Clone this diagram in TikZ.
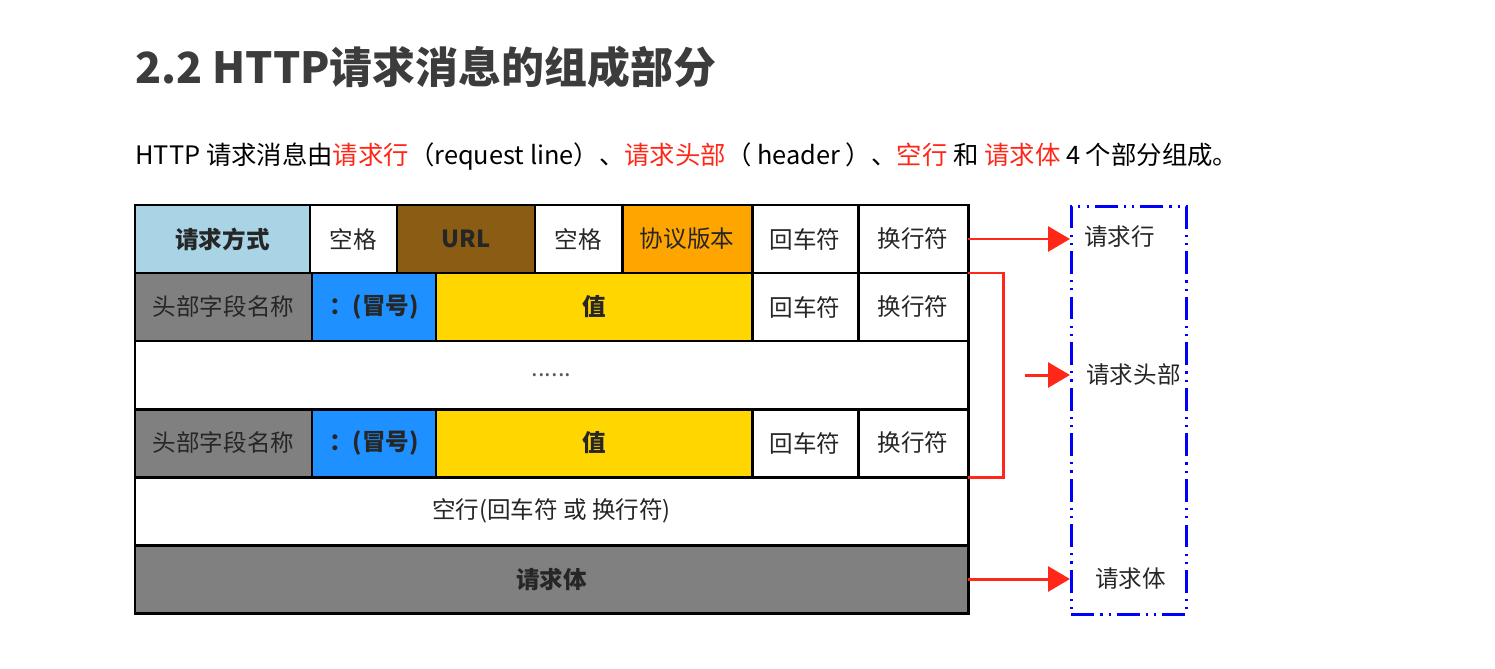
\documentclass[tikz,border=0pt]{standalone}
\usepackage{fontspec}
\setmainfont{Noto Sans CJK SC}
\usetikzlibrary{positioning,arrows.meta,calc}

\definecolor{methodblue}{RGB}{168,212,230}
\definecolor{urlbrown}{RGB}{139,92,20}
\definecolor{versorange}{RGB}{255,165,0}
\definecolor{fieldgray}{RGB}{128,128,128}
\definecolor{colonblue}{RGB}{30,144,255}
\definecolor{valuegold}{RGB}{255,214,0}
\definecolor{markred}{RGB}{255,40,24}
\definecolor{titlegray}{RGB}{60,60,60}

\newcommand{\cellfont}{\fontsize{13.4pt}{16pt}\selectfont}
\newcommand{\hl}[1]{\textcolor{markred}{#1}}

\tikzset{
  % Table cell: black frame, label centred
  cell/.style={draw=black, rectangle, line width=1.7pt, inner sep=0pt, outer sep=0pt,
               minimum height=1.36cm, font=\cellfont, text=black!85, align=center},
  cell-bold/.style={cell, font=\cellfont\bfseries},
  fullrow/.style={cell, minimum width=16.66cm},
  % Red arrows and bracket on the right
  partarr/.style={-{Triangle[length=4.4mm,width=5mm]}, draw=markred, fill=markred, line width=1.7pt},
  bracket/.style={draw=markred, line width=1.7pt},
  % Dash-dot enclosure for the part names
  partsbox/.style={draw=blue, line width=1.6pt, inner sep=0pt,
                   dash pattern=on 13pt off 3.5pt on 1.2pt off 3.5pt on 1.2pt off 3.5pt,
                   minimum width=2.30cm, minimum height=8.16cm},
  partlabel/.style={font=\cellfont, text=black!85, anchor=west, inner sep=0pt}
}

\begin{document}
\begin{tikzpicture}
\useasboundingbox (0,0) rectangle (29.90,-13.36);

% ============== Heading and intro sentence ==============
\node[anchor=west, font=\fontsize{24.4pt}{29pt}\selectfont\bfseries, text=titlegray, inner sep=0pt] (title)
  at (2.70,-1.34) {2.2 HTTP请求消息的组成部分};
\node[anchor=west, font=\fontsize{14.45pt}{17pt}\selectfont, inner sep=0pt] (intro) at (2.70,-3.14)
  {HTTP 请求消息由\hl{请求行}（request line）、\hl{请求头部}（ header ）、\hl{空行} 和 \hl{请求体} 4 个部分组成。};

% ============== Row 1: request line ==============
\node[cell-bold, fill=methodblue, minimum width=3.50cm, anchor=north west] (m) at (2.70,-4.10) {请求方式};
\node[cell, fill=white, right=0pt of m, minimum width=1.74cm] (sp1) {空格};
\node[cell-bold, fill=urlbrown, right=0pt of sp1, minimum width=2.76cm] (url) {URL};
\node[cell, fill=white, right=0pt of url, minimum width=1.74cm] (sp2) {空格};
\node[cell, fill=versorange, right=0pt of sp2, minimum width=2.60cm] (ver) {协议版本};
\node[cell, fill=white, right=0pt of ver, minimum width=2.12cm] (cr1) {回车符};
\node[cell, fill=white, right=0pt of cr1, minimum width=2.20cm] (lf1) {换行符};

% ============== Row 2: first header field ==============
\node[cell, fill=fieldgray, minimum width=3.54cm, anchor=north west] (hA-name) at (m.south west) {头部字段名称};
\node[cell-bold, fill=colonblue, right=0pt of hA-name, minimum width=2.48cm] (hA-colon) {：(冒号)};
\node[cell-bold, fill=valuegold, right=0pt of hA-colon, minimum width=6.32cm] (hA-val) {值};
\node[cell, fill=white, right=0pt of hA-val, minimum width=2.12cm] (hA-cr) {回车符};
\node[cell, fill=white, right=0pt of hA-cr, minimum width=2.20cm] (hA-lf) {换行符};

% ============== Row 3: more header fields ==============
\node[fullrow, fill=white, anchor=north west, text=black!65] (dots) at (hA-name.south west) {......};

% ============== Row 4: last header field ==============
\node[cell, fill=fieldgray, minimum width=3.54cm, anchor=north west] (hB-name) at (dots.south west) {头部字段名称};
\node[cell-bold, fill=colonblue, right=0pt of hB-name, minimum width=2.48cm] (hB-colon) {：(冒号)};
\node[cell-bold, fill=valuegold, right=0pt of hB-colon, minimum width=6.32cm] (hB-val) {值};
\node[cell, fill=white, right=0pt of hB-val, minimum width=2.12cm] (hB-cr) {回车符};
\node[cell, fill=white, right=0pt of hB-cr, minimum width=2.20cm] (hB-lf) {换行符};

% ============== Rows 5-6: blank line and body ==============
\node[fullrow, fill=white, anchor=north west] (blank) at (hB-name.south west) {空行(回车符 或 换行符)};
\node[fullrow, fill=fieldgray, font=\cellfont\bfseries, anchor=north west] (body) at (blank.south west) {请求体};

% ============== Part names on the right ==============
\node[partsbox, anchor=north west] (parts) at (21.40,-4.10) {};

\draw[partarr] (lf1.east) -- (parts.west |- lf1.east);
\node[partlabel] (lbl-line) at ($(parts.west |- lf1.east)+(0.28,0.05)$) {请求行};

% bracket round the header rows
\draw[bracket] (hA-lf.north east) -- ++(0.70,0) coordinate (brk) |- (blank.north east);
\coordinate (hdmid) at ($(brk)!0.5!(brk |- blank.north)$);
\coordinate (hdstart) at ($(hdmid)+(0.44,0)$);
\draw[partarr] (hdstart) -- (parts.west |- hdstart);
\node[partlabel] (lbl-head) at ($(parts.west |- hdstart)+(0.32,0)$) {请求头部};

\draw[partarr] (body.east) -- (parts.west |- body.east);
\node[partlabel] (lbl-body) at ($(parts.west |- body.east)+(0.50,0)$) {请求体};

\end{tikzpicture}
\end{document}
